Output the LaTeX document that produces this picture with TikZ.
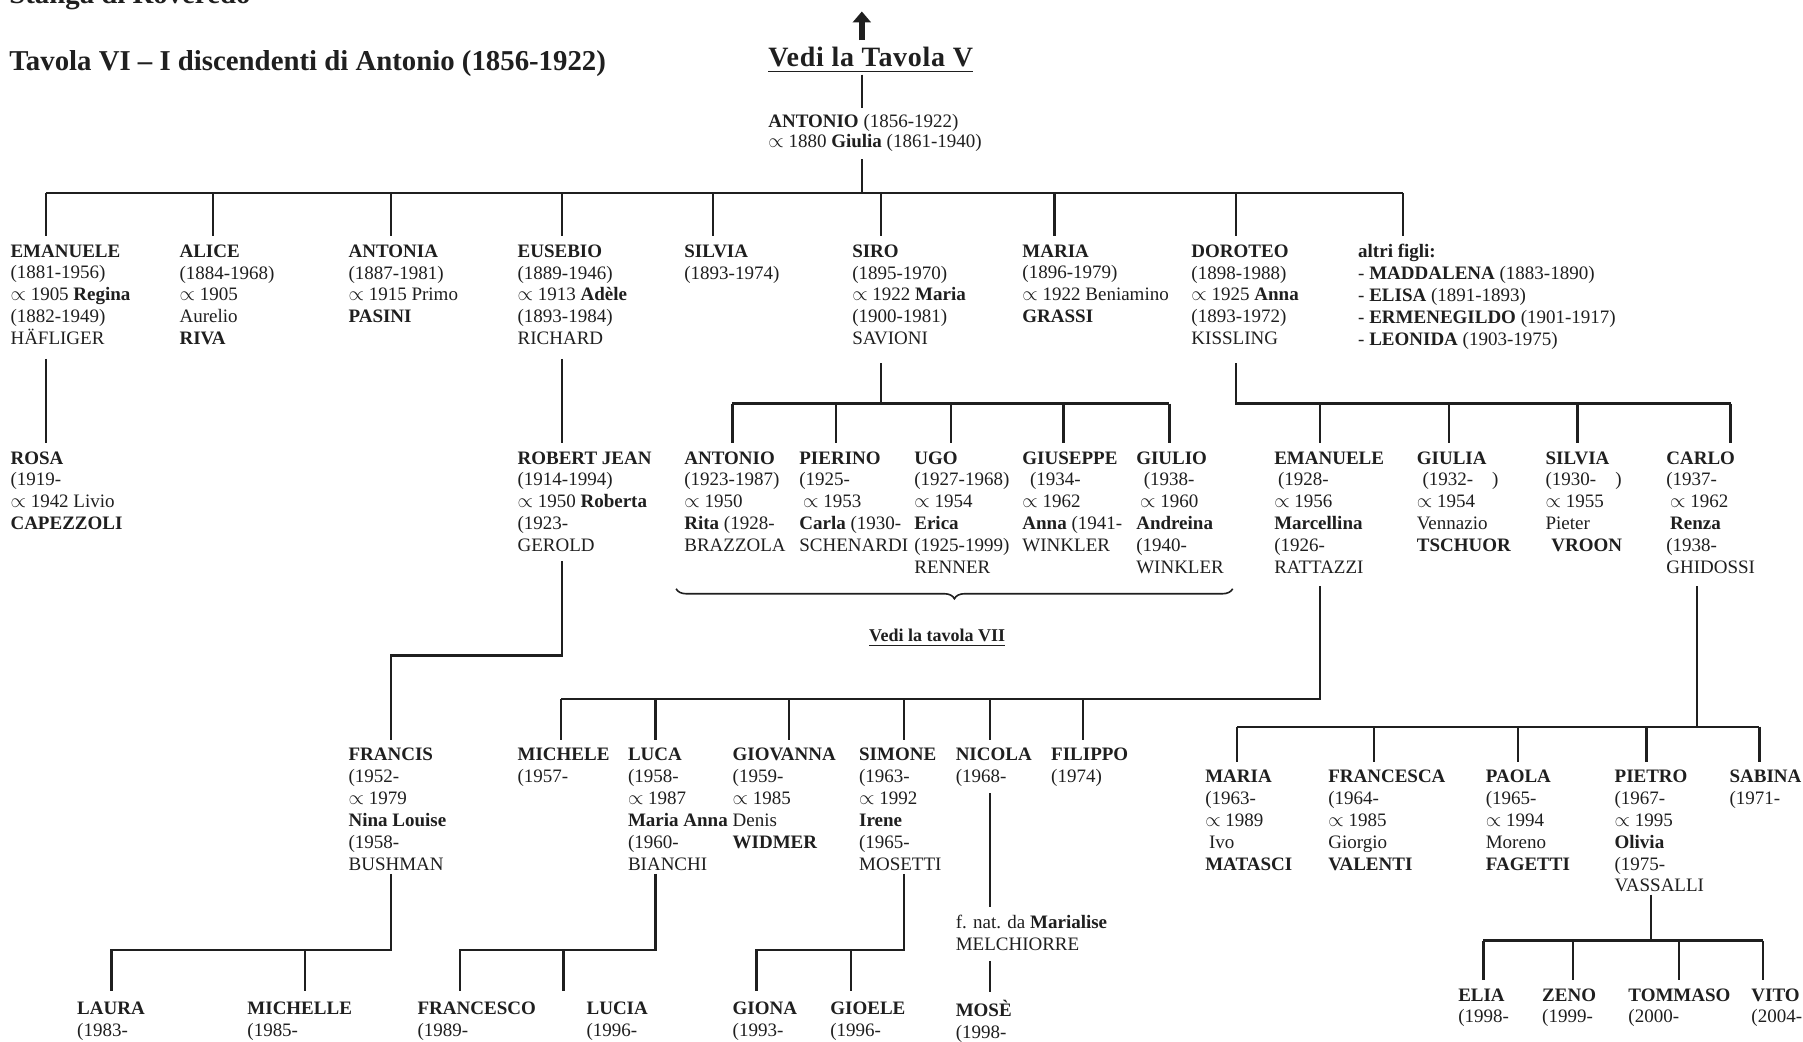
\documentclass[tikz,border=0pt]{standalone}
\usepackage{fontspec}
\usepackage{graphicx}
\setmainfont{Liberation Serif}
\usetikzlibrary{decorations.pathreplacing,arrows.meta}
\definecolor{ink}{gray}{0.12}
\newcommand\bodyfont{\fontsize{19}{21.85}\selectfont}
\newcommand\headfont{\fontsize{28.8}{32}\selectfont\bfseries}
\newcommand\sposo{\scalebox{1.15}{$\propto$}}
\tikzset{
  kin/.style={draw=ink, line width=2.4pt},
  p/.style={anchor=north west, inner sep=0pt, align=left, font=\bodyfont, text=ink, yshift=-2.9pt, execute at begin node=\strut},
  hd/.style={anchor=base west, inner sep=0pt, font=\headfont, text=ink},
}
\begin{document}
\begin{tikzpicture}[x=1.15pt, y=-1.15pt]
\useasboundingbox[fill=white] (0,0) rectangle (1568,906);

% headings
\node[hd] (stanga) at (8,3) {Stanga di Roveredo};
\node[hd] (tavola) at (8,61) {Tavola VI – I discendenti di Antonio (1856-1922)};
\node[hd, font=\fontsize{28}{32}\selectfont\bfseries\addfontfeature{LetterSpace=2.5}] (vedi5) at (668,58) {Vedi la Tavola V};
\draw[ink, line width=1.6pt] ([yshift=-5pt]vedi5.base west) -- ([yshift=-5pt]vedi5.base east);
\coordinate (upfoot) at (749.5,35);
\coordinate (uptip) at (749.5,10);
\draw[ink, line width=6pt, -{Triangle[width=18pt,length=11pt]}] (upfoot) -- (uptip);

% root couple
\node[p, font=\fontsize{19}{19.5}\selectfont] (antonio) at (668,97) {\textbf{ANTONIO} (1856-1922)\\\sposo{} 1880 \textbf{Giulia} (1861-1940)};
\coordinate (r-top) at (749.5,65);
\draw[kin] (r-top) -- ([yshift=6pt]antonio.north -| r-top);
\coordinate (bus0) at (749.5,168);
\draw[kin] ([yshift=-6pt]antonio.south -| bus0) -- (bus0);
\draw[kin] (40,168) -- (1220,168);

% first generation
\node[p] (emanuele1) at (9,210) {\textbf{EMANUELE}\\(1881-1956)\\\sposo{} 1905 \textbf{Regina}\\(1882-1949)\\HÄFLIGER};
\node[p] (alice) at (156,210) {\textbf{ALICE}\\(1884-1968)\\\sposo{} 1905\\Aurelio\\\textbf{RIVA}};
\node[p] (antonia) at (303,210) {\textbf{ANTONIA}\\(1887-1981)\\\sposo{} 1915 Primo\\\textbf{PASINI}};
\node[p] (eusebio) at (450,210) {\textbf{EUSEBIO}\\(1889-1946)\\\sposo{} 1913 \textbf{Adèle}\\(1893-1984)\\RICHARD};
\node[p] (silvia1) at (595,210) {\textbf{SILVIA}\\(1893-1974)};
\node[p] (siro) at (741,210) {\textbf{SIRO}\\(1895-1970)\\\sposo{} 1922 \textbf{Maria}\\(1900-1981)\\SAVIONI};
\node[p] (maria1) at (889,210) {\textbf{MARIA}\\(1896-1979)\\\sposo{} 1922 Beniamino\\\textbf{GRASSI}};
\node[p] (doroteo) at (1036,210) {\textbf{DOROTEO}\\(1898-1988)\\\sposo{} 1925 \textbf{Anna}\\(1893-1972)\\KISSLING};
\node[p] (altri) at (1181,210) {\textbf{altri figli:}\\- \textbf{MADDALENA} (1883-1890)\\- \textbf{ELISA} (1891-1893)\\- \textbf{ERMENEGILDO} (1901-1917)\\- \textbf{LEONIDA} (1903-1975)};
\foreach \n/\x in {emanuele1/40, alice/185, antonia/340, eusebio/489, silvia1/620, siro/766, maria1/917, doroteo/1075, altri/1220}
  \draw[kin] (bus0 -| \x,0) -- ([yshift=8pt]\n.north -| \x,0);

% Emanuele's line
\node[p] (rosa) at (9,390) {\textbf{ROSA}\\(1919-\\\sposo{} 1942 Livio\\\textbf{CAPEZZOLI}};
\coordinate (em-s) at (40,312);
\draw[kin] (em-s) -- ([yshift=8pt]rosa.north -| em-s);

% Eusebio's line
\node[p] (robert) at (450,390) {\textbf{ROBERT JEAN}\\(1914-1994)\\\sposo{} 1950 \textbf{Roberta}\\(1923-\\GEROLD};
\coordinate (eu-s) at (489,312);
\draw[kin] (eu-s) -- ([yshift=8pt]robert.north -| eu-s);
\node[p] (francis) at (303,648) {\textbf{FRANCIS}\\(1952-\\\sposo{} 1979\\\textbf{Nina Louise}\\(1958-\\BUSHMAN};
\coordinate (rj-s) at (489,488);
\coordinate (rj-k) at (489,570);
\draw[kin] (rj-s) -- (rj-k) -| ([yshift=8pt]francis.north -| 340,0);

\node[p] (laura) at (67,869) {\textbf{LAURA}\\(1983-};
\node[p] (michelle) at (215,869) {\textbf{MICHELLE}\\(1985-};
\coordinate (fr-s) at (340,760);
\coordinate (fr-k) at (340,826);
\draw[kin] (fr-s) -- (fr-k) -| ([yshift=11pt]laura.north -| 97,0);
\draw[kin] (fr-k -| 265,0) -- ([yshift=11pt]michelle.north -| 265,0);

% Siro's line
\node[p] (antonio2) at (595,390) {\textbf{ANTONIO}\\(1923-1987)\\\sposo{} 1950\\\textbf{Rita} (1928-\\BRAZZOLA};
\node[p] (pierino) at (695,390) {\textbf{PIERINO}\\(1925-\\\hspace{0.2em}\sposo{} 1953\\\textbf{Carla} (1930-\\SCHENARDI};
\node[p] (ugo) at (795,390) {\textbf{UGO}\\(1927-1968)\\\sposo{} 1954\\\textbf{Erica}\\(1925-1999)\\RENNER};
\node[p] (giuseppe) at (889,390) {\textbf{GIUSEPPE}\\\hspace{0.4em}(1934-\\\sposo{} 1962\\\textbf{Anna} (1941-\\WINKLER};
\node[p] (giulio) at (988,390) {\textbf{GIULIO}\\\hspace{0.4em}(1938-\\\hspace{0.2em}\sposo{} 1960\\\textbf{Andreina}\\(1940-\\WINKLER};
\coordinate (si-s) at (766,316);
\coordinate (si-k) at (766,351);
\draw[kin] (si-s) -- (si-k);
\draw[kin] (637,351) -- (1017,351);
\foreach \n/\x in {antonio2/637, pierino/727, ugo/827, giuseppe/925, giulio/1017}
  \draw[kin] (si-k -| \x,0) -- ([yshift=8pt]\n.north -| \x,0);
\coordinate (br-l) at (588,512);
\coordinate (br-r) at (1072,512);
\draw[ink, line width=1.6pt, decorate, decoration={brace, mirror, amplitude=10pt}] (br-l) -- (br-r);
\node[anchor=base, inner sep=0pt, font=\fontsize{18}{21}\selectfont\bfseries, text=ink] (vedi7) at (815,558) {Vedi la tavola VII};
\draw[ink, line width=1.2pt] ([yshift=-3.5pt]vedi7.base west) -- ([yshift=-3.5pt]vedi7.base east);

% Doroteo's line
\node[p] (emanuele2) at (1108,390) {\textbf{EMANUELE}\\\hspace{0.2em}(1928-\\\sposo{} 1956\\\textbf{Marcellina}\\(1926-\\RATTAZZI};
\node[p] (giulia) at (1232,390) {\textbf{GIULIA}\\\hspace{0.3em}(1932-\hspace{1em})\\\sposo{} 1954\\Vennazio\\\textbf{TSCHUOR}};
\node[p] (silvia2) at (1344,390) {\textbf{SILVIA}\\(1930-\hspace{1em})\\\sposo{} 1955\\Pieter\\\hspace{0.3em}\textbf{VROON}};
\node[p] (carlo) at (1449,390) {\textbf{CARLO}\\(1937-\\\hspace{0.2em}\sposo{} 1962\\\hspace{0.2em}\textbf{Renza}\\(1938-\\GHIDOSSI};
\coordinate (do-s) at (1075,316);
\coordinate (do-k) at (1075,351);
\draw[kin] (do-s) -- (do-k) -- (1505,351);
\foreach \n/\x in {emanuele2/1148, giulia/1260, silvia2/1372, carlo/1505}
  \draw[kin] (do-k -| \x,0) -- ([yshift=8pt]\n.north -| \x,0);

% Emanuele (1928)
\node[p] (michele) at (450,648) {\textbf{MICHELE}\\(1957-};
\node[p] (luca) at (546,648) {\textbf{LUCA}\\(1958-\\\sposo{} 1987\\\textbf{Maria Anna}\\(1960-\\BIANCHI};
\node[p] (giovanna) at (637,648) {\textbf{GIOVANNA}\\(1959-\\\sposo{} 1985\\Denis\\\textbf{WIDMER}};
\node[p] (simone) at (747,648) {\textbf{SIMONE}\\(1963-\\\sposo{} 1992\\\textbf{Irene}\\(1965-\\MOSETTI};
\node[p] (nicola) at (831,648) {\textbf{NICOLA}\\(1968-};
\node[p] (filippo) at (914,648) {\textbf{FILIPPO}\\(1974)};
\coordinate (e2-s) at (1148,510);
\coordinate (e2-k) at (1148,608);
\draw[kin] (e2-s) -- (e2-k) -- (488,608);
\foreach \n/\x in {michele/488, luca/570, giovanna/686, simone/786, nicola/861, filippo/942}
  \draw[kin] (e2-k -| \x,0) -- ([yshift=8pt]\n.north -| \x,0);

\node[p] (francesco) at (363,869) {\textbf{FRANCESCO}\\(1989-};
\node[p] (lucia) at (510,869) {\textbf{LUCIA}\\(1996-};
\coordinate (lu-s) at (570,760);
\coordinate (lu-k) at (570,826);
\draw[kin] (lu-s) -- (lu-k) -| ([yshift=11pt]francesco.north -| 400,0);
\draw[kin] (lu-k -| 490,0) -- ([yshift=11pt]lucia.north -| 490,0);

\node[p] (giona) at (637,869) {\textbf{GIONA}\\(1993-};
\node[p] (gioele) at (722,869) {\textbf{GIOELE}\\(1996-};
\coordinate (sm-s) at (786,760);
\coordinate (sm-k) at (786,826);
\draw[kin] (sm-s) -- (sm-k) -| ([yshift=11pt]giona.north -| 658,0);
\draw[kin] (sm-k -| 740,0) -- ([yshift=11pt]gioele.north -| 740,0);

\node[p] (fnat) at (831,793) {f. nat. da \textbf{Marialise}\\MELCHIORRE};
\node[p] (mose) at (831,867) {\textbf{MOSÈ}\\(1998-};
\coordinate (ni-s) at (861,690);
\draw[kin] (ni-s) -- ([yshift=8pt]fnat.north -| ni-s);
\draw[kin] ([yshift=-4pt]fnat.south -| ni-s) -- ([yshift=8pt]mose.north -| ni-s);

% Carlo's line
\node[p] (maria2) at (1048,667) {\textbf{MARIA}\\(1963-\\\sposo{} 1989\\\hspace{0.2em}Ivo\\\textbf{MATASCI}};
\node[p] (francesca) at (1155,667) {\textbf{FRANCESCA}\\(1964-\\\sposo{} 1985\\Giorgio\\\textbf{VALENTI}};
\node[p] (paola) at (1292,667) {\textbf{PAOLA}\\(1965-\\\sposo{} 1994\\Moreno\\\textbf{FAGETTI}};
\node[p] (pietro) at (1404,667) {\textbf{PIETRO}\\(1967-\\\sposo{} 1995\\\textbf{Olivia}\\(1975-\\VASSALLI};
\node[p] (sabina) at (1504,667) {\textbf{SABINA}\\(1971-};
\coordinate (ca-s) at (1476,510);
\coordinate (ca-k) at (1476,632);
\draw[kin] (ca-s) -- (ca-k);
\draw[kin] (1076,632) -- (1530,632);
\foreach \n/\x in {maria2/1076, francesca/1195, paola/1320, pietro/1432, sabina/1530}
  \draw[kin] (ca-k -| \x,0) -- ([yshift=8pt]\n.north -| \x,0);

\node[p] (elia) at (1268,857) {\textbf{ELIA}\\(1998-};
\node[p] (zeno) at (1341,857) {\textbf{ZENO}\\(1999-};
\node[p] (tommaso) at (1416,857) {\textbf{TOMMASO}\\(2000-};
\node[p] (vito) at (1523,857) {\textbf{VITO}\\(2004-};
\coordinate (pi-s) at (1436,778);
\coordinate (pi-k) at (1436,818);
\draw[kin] (pi-s) -- (pi-k);
\draw[kin] (1290,818) -- (1533,818);
\foreach \n/\x in {elia/1290, zeno/1368, tommaso/1460, vito/1533}
  \draw[kin] (pi-k -| \x,0) -- ([yshift=8pt]\n.north -| \x,0);
\end{tikzpicture}
\end{document}
